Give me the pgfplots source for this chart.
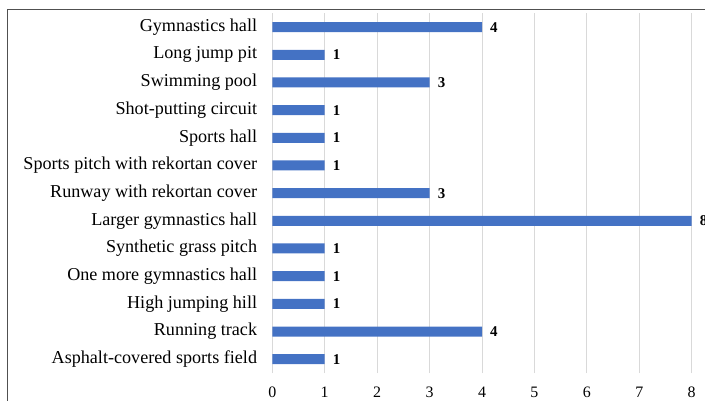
\documentclass[border=0pt]{standalone}
\usepackage{fontspec}
\setmainfont{Liberation Serif}
\usepackage{pgfplots}
\pgfplotsset{compat=1.18}
\definecolor{barblue}{HTML}{4472C4}
\definecolor{gridgray}{HTML}{D9D9D9}
\definecolor{framegray}{HTML}{505050}
\begin{document}
\begin{tikzpicture}[x=1bp,y=1bp]
\useasboundingbox (0,0) rectangle (705,400);
\clip (0,0) rectangle (705,400);
\draw[line width=1.5bp, color=framegray] (7.3,-20) rectangle (730,390.7);
\begin{axis}[
  scale only axis,
  width=419.4bp, height=359.7bp,
  anchor=south west, at={(272.3bp,27bp)},
  xbar, bar width=10bp,
  xmin=0, xmax=8, ymin=-0.5, ymax=12.5,
  xtick={0,1,2,3,4,5,6,7,8},
  ytick={0,1,2,3,4,5,6,7,8,9,10,11,12},
  yticklabels={Asphalt-covered sports field, Running track, High jumping hill, One more gymnastics hall, Synthetic grass pitch, Larger gymnastics hall, Runway with rekortan cover, Sports pitch with rekortan cover, Sports hall, Shot-putting circuit, Swimming pool, Long jump pit, Gymnastics hall},
  axis line style={draw=none},
  major tick length=0pt,
  xmajorgrids, grid style={gridgray, line width=1bp},
  /pgf/number format/assume math mode=true,
  yticklabel style={font=\fontsize{18.2}{18.2}\selectfont, inner sep=0pt, anchor=east, xshift=-15bp},
  xticklabel style={font=\fontsize{16}{16}\selectfont, inner sep=0pt, anchor=north, yshift=-14bp},
  nodes near coords,
  nodes near coords style={font=\fontsize{15}{15}\bfseries\selectfont, anchor=west, inner sep=0pt, xshift=8bp},
  clip=false,
]
\addplot[fill=barblue, draw=none] coordinates {
(1,0) (4,1) (1,2) (1,3) (1,4) (8,5) (3,6) (1,7) (1,8) (1,9) (3,10) (1,11) (4,12)};
\end{axis}
\end{tikzpicture}
\end{document}
